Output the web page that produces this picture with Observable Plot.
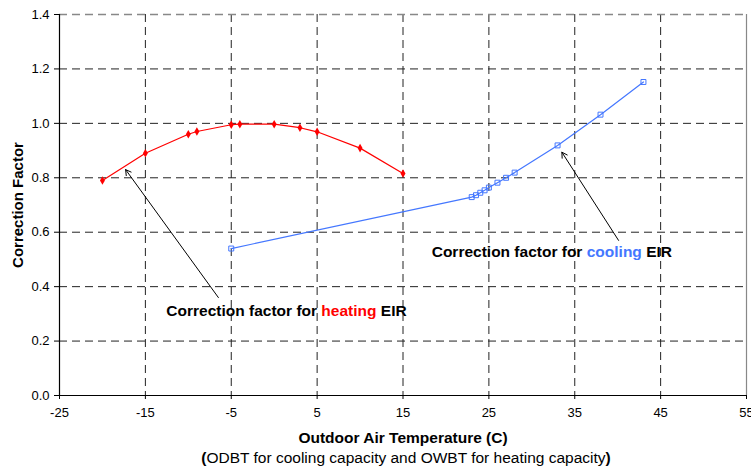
<!DOCTYPE html>
<html><head><meta charset="utf-8">
<script src="https://cdn.jsdelivr.net/npm/d3@7"></script>
<script src="https://cdn.jsdelivr.net/npm/@observablehq/plot@0.6"></script>
<style>body{margin:0;background:#fff;} svg{display:block}</style>
</head><body><div id="chart"></div>
<script>
const heatingTemp = [-20, -15, -10, -9, -5, -4, 0, 3, 5, 10, 15];
const heatingEIR  = [0.79, 0.89, 0.96, 0.97, 0.995, 0.997, 0.997, 0.984, 0.969, 0.909, 0.816];
const coolingTemp = [-5, 23, 23.5, 24, 24.5, 25, 26, 27, 28, 33, 38, 43];
const coolingEIR  = [0.54, 0.729, 0.736, 0.745, 0.754, 0.764, 0.782, 0.80, 0.819, 0.919, 1.032, 1.152];
const xTicks = [-25, -15, -5, 5, 15, 25, 35, 45, 55];
const yTicks = [0, 0.2, 0.4, 0.6, 0.8, 1.0, 1.2, 1.4];
const arrowFrom = [[-6.5, 0.36], [40.1, 0.57]];
const arrowTo   = [[-17.3, 0.83], [33.5, 0.894]];
const labelPos  = [[-12.5, 0.309], [18.4, 0.526]];
const labelWord = ["heating", "cooling"];

const RED = "#ff0000", BLUE = "#4477ff";
const FONT = "Liberation Sans, Arial, sans-serif";

const heating = heatingTemp.map((t, i) => ({t, v: heatingEIR[i]}));
const cooling = coolingTemp.map((t, i) => ({t, v: coolingEIR[i]}));
const arrows = arrowFrom.map((f, i) => ({x1: f[0], y1: f[1], x2: arrowTo[i][0], y2: arrowTo[i][1]}));

function richText(items) {
  return (index, scales, values, dimensions) => {
    const g = d3.create("svg:g").attr("font-family", FONT);
    for (const it of items) {
      const px = it.px != null ? it.px : scales.x(it.x);
      const py = it.py != null ? it.py : scales.y(it.y);
      const t = g.append("text")
        .attr("transform", `translate(${px},${py}) rotate(${it.rotate || 0})`)
        .attr("text-anchor", it.anchor || "start")
        .attr("dy", "0.35em")
        .attr("font-size", it.size || 13);
      for (const s of it.segs) {
        t.append("tspan").attr("fill", s.c || "#000").attr("font-weight", s.w || "normal").text(s.t);
      }
    }
    return g.node();
  };
}

const labels = labelPos.map((p, i) => ({
  x: p[0], y: p[1], anchor: "start", size: 15.5,
  segs: [
    {t: "Correction factor for ", w: "bold"},
    {t: labelWord[i], w: "bold", c: i === 0 ? RED : BLUE},
    {t: " EIR", w: "bold"}
  ]
}));

const titles = [
  {px: 403, py: 438, anchor: "middle", size: 15.5, segs: [{t: "Outdoor Air Temperature (C)", w: "bold"}]},
  {px: 406, py: 458, anchor: "middle", size: 15.5, segs: [
    {t: "(", w: "bold"},
    {t: "ODBT for cooling capacity and OWBT for heating capacity"},
    {t: ")", w: "bold"}
  ]},
  {px: 18, py: 205, anchor: "middle", size: 15, rotate: -90, segs: [{t: "Correction Factor", w: "bold"}]}
];

const chart = Plot.plot({
  width: 751,
  height: 469,
  marginLeft: 59,
  marginRight: 5,
  marginTop: 14,
  marginBottom: 74,
  style: {fontFamily: FONT, fontSize: "13px", color: "#000", background: "#fff"},
  x: {domain: [-25, 55], ticks: xTicks},
  y: {domain: [0, 1.4], ticks: yTicks},
  marks: [
    Plot.ruleX(xTicks.slice(1, -1), {stroke: "#222", strokeWidth: 1, strokeDasharray: "8,5"}),
    Plot.ruleY(yTicks.slice(1, -1), {stroke: "#222", strokeWidth: 1, strokeDasharray: "8,5"}),
    Plot.ruleY([1.4], {stroke: "#888", strokeWidth: 1.5, strokeDasharray: "8,5"}),
    Plot.ruleX([55], {stroke: "#888", strokeWidth: 1.2}),
    Plot.axisX({ticks: xTicks, tickFormat: d => d, tickSize: 4, tickPadding: 8, label: null, fontSize: 13}),
    Plot.axisY({ticks: yTicks, tickFormat: d3.format(".1f"), tickSize: 5, tickPadding: 5, label: null, fontSize: 13}),
    Plot.ruleX([-25], {stroke: "#000", strokeWidth: 1.2}),
    Plot.ruleY([0], {stroke: "#000", strokeWidth: 1.2}),
    Plot.line(heating, {x: "t", y: "v", stroke: RED, strokeWidth: 1.2}),
    Plot.dot(heating, {x: "t", y: "v", symbol: "diamond", r: 2.6, fill: RED}),
    Plot.line(cooling, {x: "t", y: "v", stroke: BLUE, strokeWidth: 1.2}),
    Plot.dot(cooling, {x: "t", y: "v", symbol: "square", r: 2.8, fill: "none", stroke: BLUE, strokeWidth: 1}),
    Plot.arrow(arrows, {x1: "x1", y1: "y1", x2: "x2", y2: "y2", stroke: "#000", strokeWidth: 1, headLength: 9, insetStart: 0, insetEnd: 0}),
    richText(labels),
    richText(titles)
  ]
});
document.getElementById("chart").appendChild(chart);
</script>
</body></html>
